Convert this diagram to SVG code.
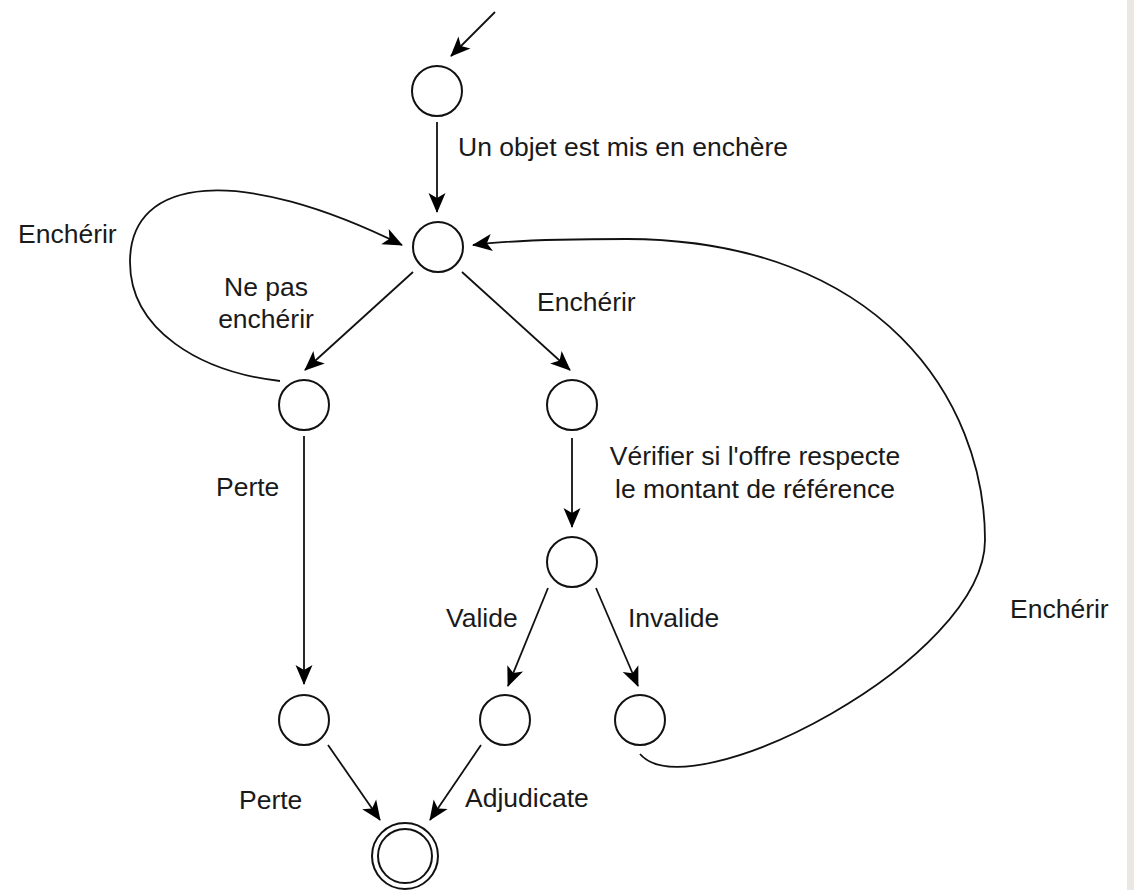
<svg xmlns="http://www.w3.org/2000/svg" width="1134" height="890" viewBox="0 0 1134 890">
<defs>
<marker id="arr" markerUnits="userSpaceOnUse" markerWidth="24" markerHeight="20" refX="19" refY="8.5" orient="auto" overflow="visible">
<path d="M0,0 L20,8.5 L0,17 L5,8.5 Z" fill="#000"/>
</marker>
<style>
.st{fill:#fff;stroke:#111;stroke-width:2}
.ar{fill:none;stroke:#111;stroke-width:1.8;marker-end:url(#arr)}
text{font-family:"Liberation Sans",Arial,sans-serif;font-size:26.5px;fill:#1a1a1a}
</style>
</defs>
<rect x="0" y="0" width="1134" height="890" fill="#fff"/>
<rect x="1127" y="0" width="7" height="890" fill="#ebe8e4"/>
<g id="connectors">
<path class="ar" d="M495,12 L451,56"/>
<path class="ar" d="M437,122 L437,212"/>
<path class="ar" d="M280,381 C200,372 130,330 130,262 C130,175 240,165 402,245"/>
<path class="ar" d="M413,272 L305,370"/>
<path class="ar" d="M462,272 L570,370"/>
<path class="ar" d="M304,436 L304,684"/>
<path class="ar" d="M572,438 L572,527"/>
<path class="ar" d="M548,588 L508,686"/>
<path class="ar" d="M596,588 L638,686"/>
<path class="ar" d="M328,745 L380,820"/>
<path class="ar" d="M481,745 L430,820"/>
<path class="ar" d="M640,754 C690,812 985,660 985,540 C985,400 880,240 627,239 C560,239 510,240 473,245"/>
</g>
<g id="n0"><circle class="st" cx="437" cy="91" r="25"/></g>
<g id="n1"><circle class="st" cx="438" cy="247" r="25"/></g>
<g id="n2"><circle class="st" cx="304" cy="405" r="25"/></g>
<g id="n3"><circle class="st" cx="572" cy="405" r="25"/></g>
<g id="n4"><circle class="st" cx="572" cy="562" r="25"/></g>
<g id="n5"><circle class="st" cx="304" cy="720" r="25"/></g>
<g id="n6"><circle class="st" cx="505" cy="720" r="25"/></g>
<g id="n7"><circle class="st" cx="640" cy="720" r="25"/></g>
<g id="final"><circle class="st" cx="405" cy="856" r="33"/><circle class="st" cx="405" cy="856" r="27"/></g>
<g id="labels">
<text x="458" y="156">Un objet est mis en enchère</text>
<text x="18" y="243">Enchérir</text>
<text x="266" y="296" text-anchor="middle">Ne pas</text>
<text x="266" y="328" text-anchor="middle">enchérir</text>
<text x="537" y="311">Enchérir</text>
<text x="755" y="465" text-anchor="middle">Vérifier si l'offre respecte</text>
<text x="755" y="498" text-anchor="middle">le montant de référence</text>
<text x="216" y="496">Perte</text>
<text x="1010" y="618">Enchérir</text>
<text x="446" y="627">Valide</text>
<text x="628" y="627">Invalide</text>
<text x="239" y="809">Perte</text>
<text x="465" y="807">Adjudicate</text>
</g>
</svg>
